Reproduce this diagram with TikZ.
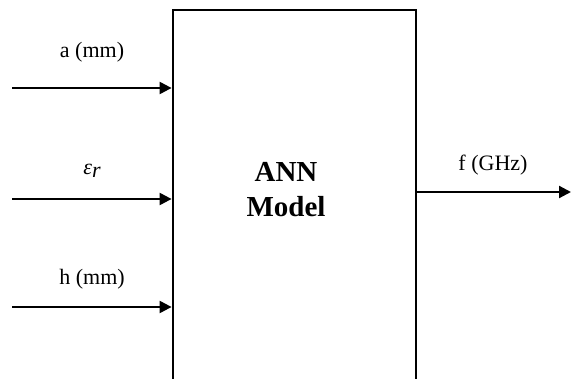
\documentclass[tikz,border=0pt]{standalone}
\usepackage{fontspec}
\setmainfont{Liberation Serif}
\usetikzlibrary{arrows.meta}

\begin{document}
\begin{tikzpicture}[x=1pt, y=-1pt, line width=2.2pt,
    every node/.style={font=\fontsize{22}{26}\selectfont},
    >={Triangle[length=12pt,width=12pt]}]
  \useasboundingbox (0,0) rectangle (571,379);
  \clip (0,0) rectangle (571,379);
  % model block
  \node[draw, line width=2.8pt, minimum width=243pt, minimum height=380pt, inner sep=0pt] (ann) at (294.5,200) {};
  \node[font=\fontsize{29}{35}\selectfont\bfseries, align=center] (annlbl) at (286,190) {ANN\\Model};
  % inputs
  \foreach \i/\y/\ly/\lab in {1/88/52/{a (mm)}, 2/199/171/{\itshape ε\raisebox{-0.3ex}{r}}, 3/307/279/{h (mm)}} {
    \coordinate (in\i) at (12,\y);
    \draw[->] (in\i) -- (in\i -| ann.west);
    \node (lab\i) at (92,\ly) {\lab};
  }
  % output
  \coordinate (out) at (571,192);
  \draw[->] (ann.east |- out) -- (out);
  \node (labout) at (493,165) {f (GHz)};
\end{tikzpicture}
\end{document}
